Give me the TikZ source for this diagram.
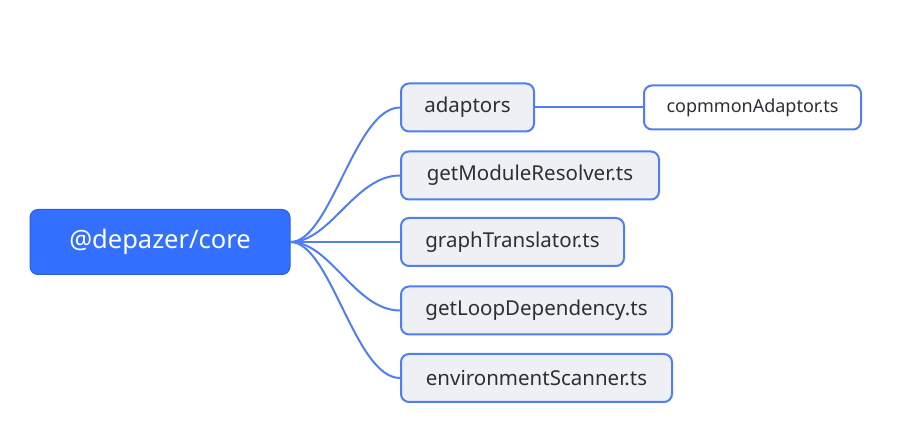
\documentclass[tikz,border=0pt]{standalone}
\usepackage{fontspec}
\setmainfont{Noto Sans}
\definecolor{rootblue}{HTML}{3370FF}
\definecolor{edgeblue}{HTML}{4F7FF2}
\definecolor{childfill}{HTML}{EEF0F5}
\definecolor{txt}{HTML}{2B2F36}
\begin{document}
\begin{tikzpicture}[x=1pt,y=-1pt,
  rootbox/.style={draw=rootblue!85!black, line width=1pt, fill=rootblue, rounded corners=8pt, text=white, minimum width=260pt, minimum height=65pt, inner sep=0pt, font=\fontsize{25.5}{28}\selectfont},
  childbox/.style={draw=edgeblue, line width=2pt, fill=childfill, rounded corners=8pt, text=txt, minimum height=48pt, inner sep=0pt, font=\fontsize{20.5}{24}\selectfont},
  leafbox/.style={draw=edgeblue, line width=2pt, fill=white, rounded corners=8pt, text=txt, minimum height=44pt, inner sep=0pt, font=\fontsize{18}{21}\selectfont},
  conn/.style={draw=edgeblue, line width=2pt}
]
\useasboundingbox (0,0) rectangle (898,443);
\node[rootbox] (root) at (160,242) {@depazer/core};
\node[childbox, minimum width=133pt] (c1) at (467.5,107.5) {adaptors};
\node[childbox, minimum width=258pt] (c2) at (530,175.5) {getModuleResolver.ts};
\node[childbox, minimum width=223pt] (c3) at (512.5,242) {graphTranslator.ts};
\node[childbox, minimum width=271pt] (c4) at (536.5,310.5) {getLoopDependency.ts};
\node[childbox, minimum width=271pt] (c5) at (536.5,378) {environmentScanner.ts};
\node[leafbox, minimum width=217pt] (l1) at (752.5,107.5) {copmmonAdaptor.ts};
\foreach \c in {c1,c2,c3,c4,c5}{
  \draw[conn] (root.east) .. controls +(40,0) and +(-45,0) .. (\c.west);
}
\draw[conn] (c1.east) -- (l1.west);
\end{tikzpicture}
\end{document}
